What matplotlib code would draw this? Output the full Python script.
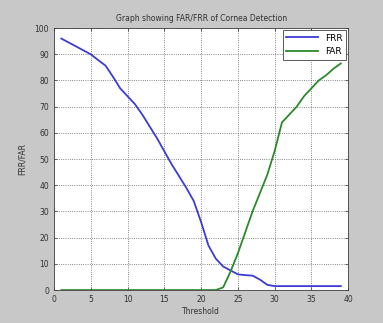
import numpy as np
import matplotlib
matplotlib.use("Agg")
import matplotlib.pyplot as plt

threshold = list(range(1, 40))
frr = [96, 94.5, 93, 91.5, 90, 87.8, 85.7, 81.5, 77, 74,
       71, 67, 62.5, 58, 53, 48, 43.5, 39, 34, 26,
       17, 12, 9, 7.5, 6, 5.7, 5.5, 4, 2, 1.5,
       1.5, 1.5, 1.5, 1.5, 1.5, 1.5, 1.5, 1.5, 1.5]
far = [0] * 22 + [1, 7, 14, 22, 30, 37, 44, 53, 64,
                  67, 70, 74, 77, 80, 82, 84.5, 86.5]

fig = plt.figure(figsize=(3.83, 3.23), dpi=100, facecolor="#c8c8c8")
ax = fig.add_axes([0.141, 0.102, 0.768, 0.811])
ax.plot(threshold, frr, color="#3c3cd4", lw=1.3, label="FRR")
ax.plot(threshold, far, color="#2a8a2a", lw=1.3, label="FAR")

ax.set_xlim(0, 40)
ax.set_ylim(0, 100)
ax.set_xticks(np.arange(0, 41, 5))
ax.set_yticks(np.arange(0, 101, 10))
ax.grid(True, linestyle=":", color="#606060", lw=0.6)
ax.tick_params(direction="in", labelsize=5.5, length=2.5, top=True, right=True,
               width=0.5, colors="#303030")
for s in ax.spines.values():
    s.set_linewidth(0.6)
    s.set_color("#404040")

ax.set_title("Graph showing FAR/FRR of Cornea Detection", fontsize=5.5, pad=5, color="#303030")
ax.set_xlabel("Threshold", fontsize=5.5, labelpad=2, color="#303030")
ax.set_ylabel("FRR/FAR", fontsize=5.5, labelpad=6, color="#303030")
leg = ax.legend(loc="upper right", fontsize=6.5, fancybox=False, framealpha=1,
                edgecolor="#404040", handlelength=3.5, borderaxespad=0.2)
leg.get_frame().set_linewidth(0.6)

fig.savefig("out.png", dpi=100, facecolor=fig.get_facecolor())
